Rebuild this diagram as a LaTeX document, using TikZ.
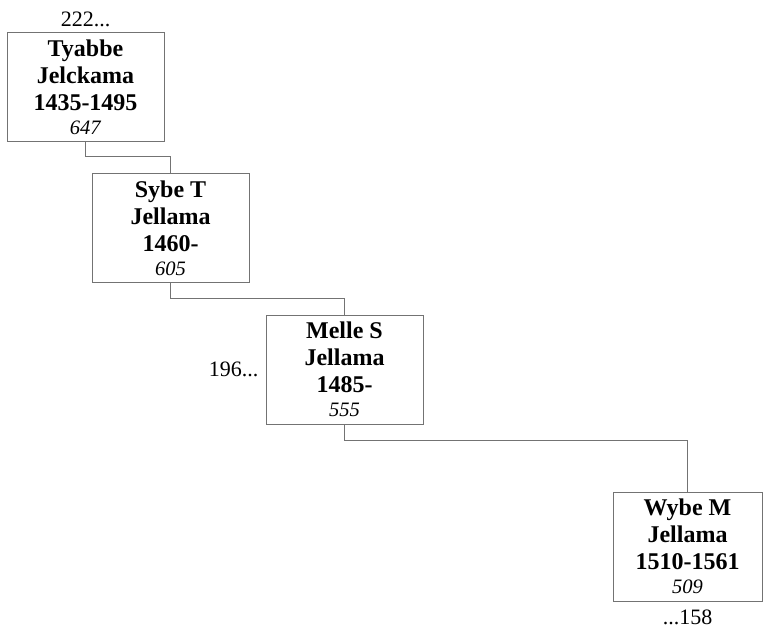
\documentclass[tikz,border=0pt]{standalone}
\usepackage{fontspec}
\setmainfont{Liberation Serif}
\usetikzlibrary{
    positioning
}

\begin{document}
\begin{tikzpicture}[
    x=1pt, y=1pt,
    every node/.style={font=\fontsize{22}{26}\selectfont},
    person/.style={
        rectangle,
        draw=black!55,
        line width=0.8pt,
        align=center,
        inner sep=0pt,
        minimum height=109pt,
        minimum width=157pt,
        font=\fontsize{24}{27}\selectfont
    },
    link/.style={draw=black!55, line width=0.8pt},
    more/.style={font=\fontsize{22}{26}\selectfont, inner sep=1pt}
]
\useasboundingbox (0,0) rectangle (763,-628);

% ---------- Persons (top left to bottom right) ----------
\node[person] (tyabbe) at (85.5,-87)
    {\textbf{Tyabbe}\\ \textbf{Jelckama}\\ \textbf{1435-1495}\\[-3pt]
     {\fontsize{20.5}{24}\selectfont\textit{647}}};

\node[person, below=31pt of tyabbe.south, xshift=85pt, anchor=north] (sybe)
    {\textbf{Sybe T}\\ \textbf{Jellama}\\ \textbf{1460-}\\[-3pt]
     {\fontsize{20.5}{24}\selectfont\textit{605}}};

\node[person, below=32pt of sybe.south, xshift=174pt, anchor=north] (melle)
    {\textbf{Melle S}\\ \textbf{Jellama}\\ \textbf{1485-}\\[-3pt]
     {\fontsize{20.5}{24}\selectfont\textit{555}}};

\node[person, minimum width=149pt, below=67pt of melle.south, xshift=343pt, anchor=north] (wybe)
    {\textbf{Wybe M}\\ \textbf{Jellama}\\ \textbf{1510-1561}\\[-3pt]
     {\fontsize{20.5}{24}\selectfont\textit{509}}};

% ---------- Continuation labels ----------
\node[more, above=4pt of tyabbe] (up) {222...};
\node[more, left=6pt of melle] (left) {196...};
\node[more, below=7pt of wybe] (down) {...158};

% ---------- Descent lines ----------
\draw[link] (tyabbe.south) -- ++(0,-15) -| (sybe.north);
\draw[link] (sybe.south) -- ++(0,-16) -| (melle.north);
\draw[link] (melle.south) -- ++(0,-16) -| (wybe.north);

\end{tikzpicture}
\end{document}
